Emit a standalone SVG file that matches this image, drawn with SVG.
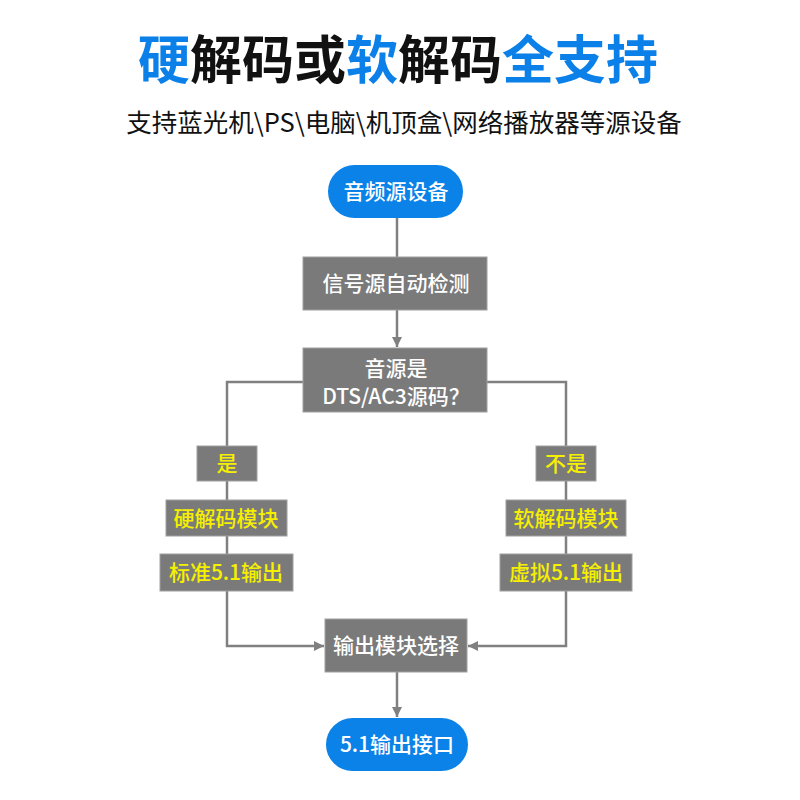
<svg xmlns="http://www.w3.org/2000/svg" width="800" height="800" viewBox="0 0 800 800">
<defs>
<style>
text{font-family:"Noto Sans CJK SC","Noto Sans",sans-serif;text-anchor:middle}
.title{font-size:52px;font-weight:600}
.sub{font-size:25.5px;font-weight:400;fill:#111}
.blue{fill:#0a80e8}
.blk{fill:#111}
.pill{fill:#0a82e8}
.box{fill:#7a7a7a;stroke:#a0a0a0;stroke-width:1}
.wt{fill:#fff;font-size:21px;font-weight:500}
.yt{fill:#f6f000;font-size:21px;font-weight:500}
.ln{fill:none;stroke:#808080;stroke-width:2.5}
</style>
<marker id="ah" viewBox="0 0 10 10" refX="10" refY="5" markerWidth="4" markerHeight="4" orient="auto" markerUnits="strokeWidth">
<path d="M0,0 L10,5 L0,10 z" fill="#808080"/>
</marker>
</defs>
<rect width="800" height="800" fill="#fff"/>
<text class="title" x="398" y="79"><tspan class="blue">硬</tspan><tspan class="blk">解码或</tspan><tspan class="blue">软</tspan><tspan class="blk">解码</tspan><tspan class="blue" fill="#1a8ae8">全支持</tspan></text>
<text class="sub" x="404" y="132">支持蓝光机\PS\电脑\机顶盒\网络播放器等源设备</text>
<g id="connectors">
<line class="ln" x1="397" y1="218" x2="397" y2="257"/>
<line class="ln" x1="397" y1="310" x2="397" y2="347" marker-end="url(#ah)"/>
<polyline class="ln" points="303,382 227,382 227,646 324,646" marker-end="url(#ah)"/>
<polyline class="ln" points="487,382 566,382 566,646 468,646" marker-end="url(#ah)"/>
<line class="ln" x1="397" y1="672" x2="397" y2="717" marker-end="url(#ah)"/>
</g>
<g id="n-source"><rect class="pill" x="328" y="165" width="135" height="53" rx="26.5"/><text class="wt" x="396" y="199">音频源设备</text></g>
<g id="n-detect"><rect class="box" x="303" y="257" width="184" height="53"/><text class="wt" x="396" y="291">信号源自动检测</text></g>
<g id="n-decision"><rect class="box" x="303" y="348" width="184" height="64"/><text class="wt" x="396" y="376">音源是</text><text class="wt" x="396" y="404">DTS/AC3源码？</text></g>
<g id="n-yes"><rect class="box" x="197" y="446" width="60" height="35"/><text class="yt" x="227" y="471">是</text></g>
<g id="n-hard"><rect class="box" x="166" y="500" width="121" height="36"/><text class="yt" x="226" y="526">硬解码模块</text></g>
<g id="n-std"><rect class="box" x="160" y="554" width="133" height="37"/><text class="yt" x="226" y="580">标准5.1输出</text></g>
<g id="n-no"><rect class="box" x="536" y="446" width="60" height="35"/><text class="yt" x="566" y="471">不是</text></g>
<g id="n-soft"><rect class="box" x="506" y="500" width="120" height="36"/><text class="yt" x="566" y="526">软解码模块</text></g>
<g id="n-virt"><rect class="box" x="500" y="554" width="132" height="37"/><text class="yt" x="566" y="580">虚拟5.1输出</text></g>
<g id="n-select"><rect class="box" x="325" y="619" width="142" height="53"/><text class="wt" x="396" y="653">输出模块选择</text></g>
<g id="n-out"><rect class="pill" x="326" y="718" width="142" height="53" rx="26.5"/><text class="wt" x="397" y="752">5.1输出接口</text></g>
</svg>
